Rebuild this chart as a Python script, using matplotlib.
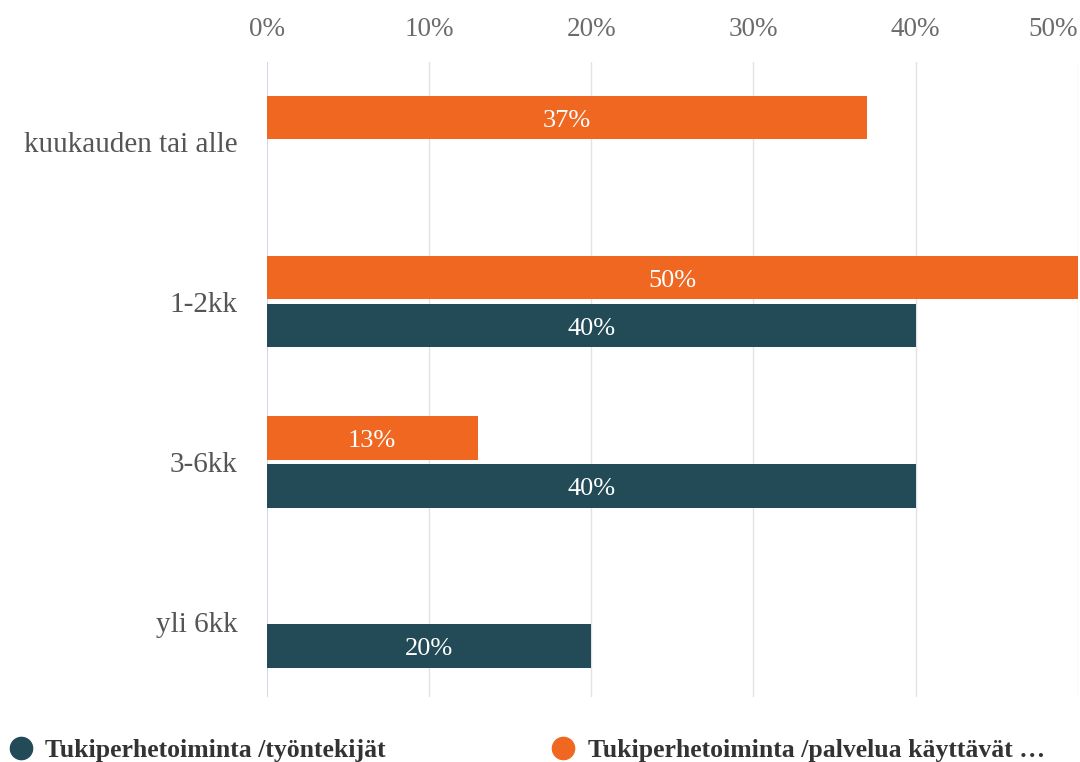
import numpy as np
import matplotlib.pyplot as plt
from matplotlib.lines import Line2D

# ------------------------------------------------------------
# Data
# ------------------------------------------------------------
CATEGORIES = ["kuukauden tai alle", "1-2kk", "3-6kk", "yli 6kk"]
SERIES_NAMES = ["Tukiperhetoiminta /työntekijät",
                "Tukiperhetoiminta /palvelua käyttävät …"]
# None = no bar in that category
WORKERS = [None, 40, 40, 20]
USERS = [37, 50, 13, None]
X_TICKS = [0, 10, 20, 30, 40, 50]

TEAL = "#234B57"
ORANGE = "#F06722"
GRID = "#E2E2E2"
ZERO = "#C9D2EA"
TICK_GRAY = "#6B6B6B"

plt.rcParams["font.family"] = ["Liberation Serif", "DejaVu Serif"]

fig = plt.figure(figsize=(10.8, 7.62), dpi=100)
ax = fig.add_axes([0.247, 0.085, 0.751, 0.834])

y = np.arange(len(CATEGORIES))
bar_h = 0.27
offset = 0.15


def draw(values, shift, color):
    for yi, v in zip(y, values):
        if v is None:
            continue
        ax.barh(yi + shift, v, height=bar_h, color=color, zorder=3)
        ax.text(v / 2, yi + shift + 0.02, f"{v}%", ha="center", va="center",
                color="white", fontsize=19, zorder=4)


draw(USERS, -offset, ORANGE)
draw(WORKERS, offset, TEAL)

ax.set_xlim(0, 50)
ax.set_ylim(len(CATEGORIES) - 0.53, -0.5)

ax.xaxis.tick_top()
ax.set_xticks(X_TICKS)
labels = ax.set_xticklabels([f"{t}%" for t in X_TICKS], color=TICK_GRAY, fontsize=19.5)
labels[-1].set_horizontalalignment("right")
ax.tick_params(axis="x", length=0, pad=14)
ax.set_yticks(y)
ax.set_yticklabels(CATEGORIES, color="#555555", fontsize=21)
ax.tick_params(axis="y", length=0, pad=21)

for t in X_TICKS[1:]:
    ax.axvline(t, color=GRID, linewidth=1, zorder=1)
ax.axvline(0, color=ZERO, linewidth=1.3, zorder=2)

for s in ax.spines.values():
    s.set_visible(False)

handles = [
    Line2D([], [], marker="o", linestyle="none", markersize=16,
           markerfacecolor=TEAL, markeredgecolor=TEAL),
    Line2D([], [], marker="o", linestyle="none", markersize=16,
           markerfacecolor=ORANGE, markeredgecolor=ORANGE),
]
leg = fig.legend(handles, SERIES_NAMES, loc="lower left",
                 bbox_to_anchor=(-0.014, -0.030), ncol=2, frameon=False,
                 handletextpad=0.45, columnspacing=6.4, handlelength=1.0,
                 prop={"weight": "bold", "size": 18.5})
for txt in leg.get_texts():
    txt.set_color("#333333")

fig.savefig("out.png", dpi=100)
